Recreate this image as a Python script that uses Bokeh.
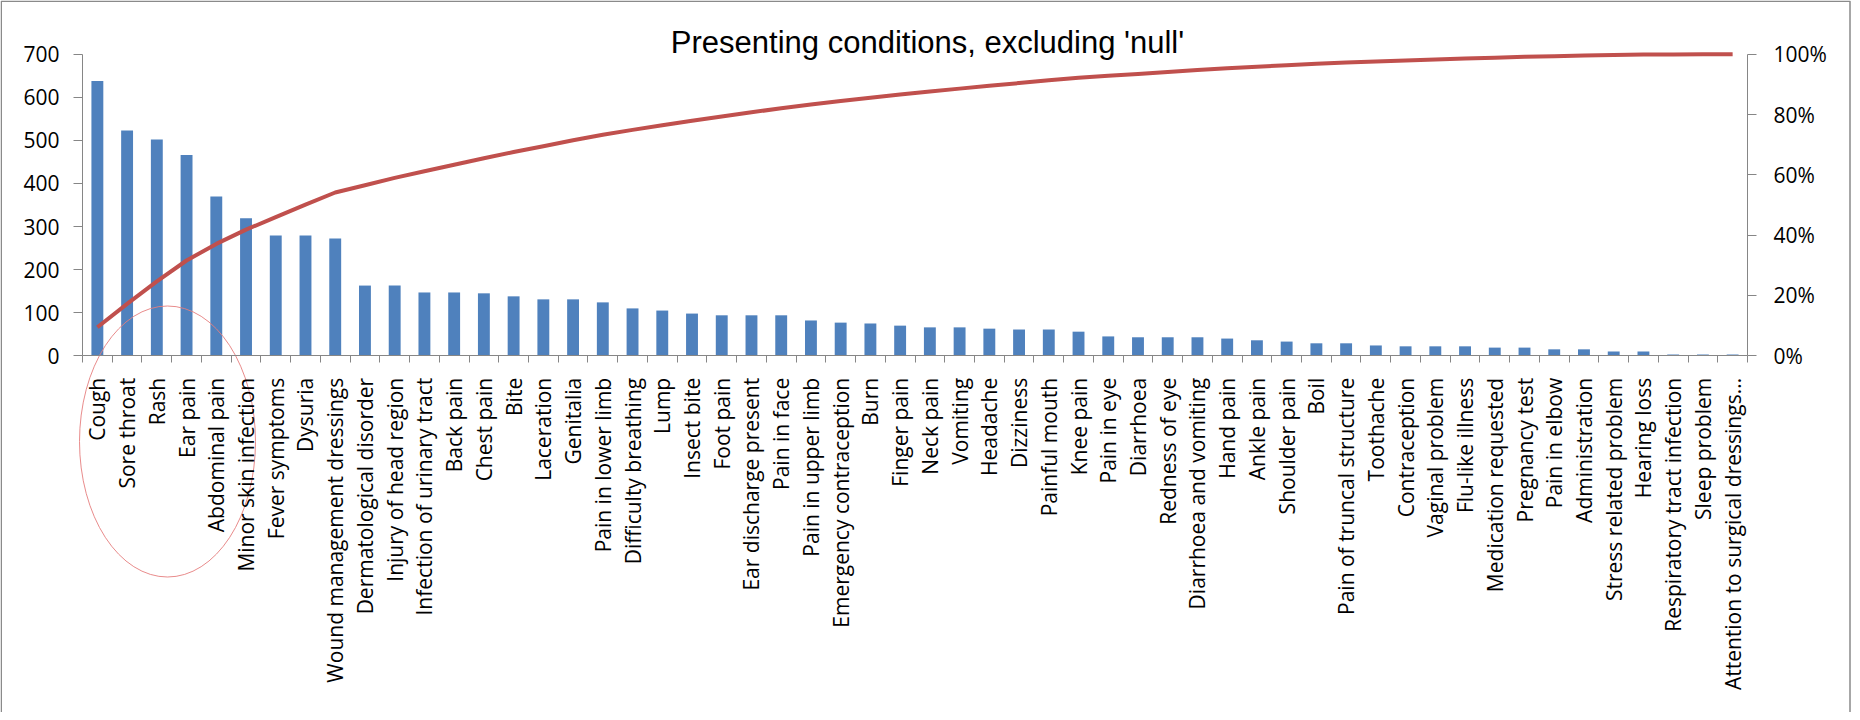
import math
from itertools import accumulate

from bokeh.plotting import figure
from bokeh.models import (Range1d, LinearAxis, FixedTicker, NumeralTickFormatter, Label)
from bokeh.embed import file_html
from bokeh.resources import INLINE

# ---------------- data ----------------
categories = [
    "Cough", "Sore throat", "Rash", "Ear pain", "Abdominal pain",
    "Minor skin infection", "Fever symptoms", "Dysuria",
    "Wound management dressings", "Dermatological disorder",
    "Injury of head region", "Infection of urinary tract", "Back pain",
    "Chest pain", "Bite", "Laceration", "Genitalia", "Pain in lower limb",
    "Difficulty breathing", "Lump", "Insect bite", "Foot pain",
    "Ear discharge present", "Pain in face", "Pain in upper limb",
    "Emergency contraception", "Burn", "Finger pain", "Neck pain",
    "Vomiting", "Headache", "Dizziness", "Painful mouth", "Knee pain",
    "Pain in eye", "Diarrhoea", "Redness of eye", "Diarrhoea and vomiting",
    "Hand pain", "Ankle pain", "Shoulder pain", "Boil",
    "Pain of truncal structure", "Toothache", "Contraception",
    "Vaginal problem", "Flu-like illness", "Medication requested",
    "Pregnancy test", "Pain in elbow", "Administration",
    "Stress related problem", "Hearing loss", "Respiratory tract infection",
    "Sleep problem", "Attention to surgical dressings...",
]
counts = [
    638, 523, 502, 466, 370, 319, 279, 279, 272, 163,
    163, 147, 147, 145, 138, 131, 131, 124, 110, 105,
    98, 94, 94, 94, 82, 77, 75, 70, 66, 66,
    63, 61, 61, 56, 45, 43, 43, 43, 40, 36,
    33, 29, 29, 24, 22, 22, 22, 19, 19, 15,
    15, 10, 10, 3, 3, 3,
]
count_ticks = [0, 100, 200, 300, 400, 500, 600, 700]
pct_ticks = [0.0, 0.2, 0.4, 0.6, 0.8, 1.0]
title_text = "Presenting conditions, excluding 'null'"

# cumulative share for the Pareto line
total = sum(counts)
cum_pct = [c / total for c in accumulate(counts)]

n = len(categories)
centers = [i + 0.5 for i in range(n)]
bounds = [float(i) for i in range(n + 1)]
COUNT_MAX = 700

# ---------------- layout (pixels on the canvas) ----------------
W, H = 1852, 712
AX_LEFT_PX = 82.0          # canvas x of the value axis
AX_RIGHT_PX = 1747.0       # canvas x of the percentage axis
ZERO_PX = 355.3            # canvas y of the zero line
TOP_PX = 53.7              # canvas y of the 700 tick
CAT_PX = (AX_RIGHT_PX - AX_LEFT_PX) / n
UNIT_PX = (ZERO_PX - TOP_PX) / COUNT_MAX

def px_x(cx):
    return (cx - AX_LEFT_PX) / CAT_PX

def px_y(cy):
    return (ZERO_PX - cy) / UNIT_PX

x0, x1 = px_x(0), px_x(W)
y0, y1 = px_y(H), px_y(0)

# ---------------- styles ----------------
BAR = "#4F81BD"
LINE = "#C0504D"
AXIS = "#868686"
LABEL_FONT = "Open Sans"

p = figure(width=W, height=H, output_backend="svg", toolbar_location=None,
           x_range=Range1d(x0, x1), y_range=Range1d(y0, y1),
           min_border=0, min_border_left=0, min_border_right=0,
           min_border_top=0, min_border_bottom=0)
p.extra_y_ranges = {"pct": Range1d(y0 / COUNT_MAX, y1 / COUNT_MAX)}
p.outline_line_color = None
p.grid.visible = False
p.background_fill_color = "white"
p.border_fill_color = "white"

# chart-area border (top, left, right edges; bottom lies outside the window)
p.quad(left=[px_x(0.75)], right=[px_x(1849.5)], top=[px_y(0.75)], bottom=[px_y(H + 40)],
       fill_color=None, line_color="#8a8a8a", line_width=1.5)

# bars and cumulative line
p.vbar(x=centers, top=counts, width=0.4, fill_color=BAR, line_color=None)
p.line(x=centers, y=cum_pct, y_range_name="pct", line_color=LINE, line_width=4)

# left axis
ya = p.yaxis[0]
ya.fixed_location = 0
ya.bounds = (0, COUNT_MAX)
ya.ticker = FixedTicker(ticks=count_ticks)
ya.axis_line_color = AXIS
ya.major_tick_line_color = AXIS
ya.major_tick_out = 9
ya.major_tick_in = 0
ya.minor_tick_out = 0
ya.minor_tick_in = 0
ya.major_label_text_font = LABEL_FONT
ya.major_label_text_font_size = "21px"
ya.major_label_text_color = "black"
ya.major_label_standoff = 14

# bottom axis
xa = p.xaxis[0]
xa.fixed_location = 0
xa.bounds = (0, n)
xa.ticker = FixedTicker(ticks=centers, minor_ticks=bounds)
xa.major_label_overrides = {c: lab for c, lab in zip(centers, categories)}
xa.axis_line_color = AXIS
xa.major_tick_out = 0
xa.major_tick_in = 0
xa.minor_tick_out = 7
xa.minor_tick_in = 0
xa.minor_tick_line_color = AXIS
xa.major_label_orientation = math.pi / 2
xa.major_label_text_font = LABEL_FONT
xa.major_label_text_font_size = "21px"
xa.major_label_text_color = "black"
xa.major_label_standoff = 15

# right axis
ra = LinearAxis(y_range_name="pct", ticker=FixedTicker(ticks=pct_ticks),
                formatter=NumeralTickFormatter(format="0%"))
ra.fixed_location = n
ra.bounds = (0, 1)
ra.axis_line_color = AXIS
ra.major_tick_line_color = AXIS
ra.major_tick_out = 9
ra.major_tick_in = 0
ra.minor_tick_out = 0
ra.minor_tick_in = 0
ra.major_label_text_font = LABEL_FONT
ra.major_label_text_font_size = "21px"
ra.major_label_text_color = "black"
ra.major_label_standoff = 17
p.add_layout(ra, "right")

# title
p.add_layout(Label(x=px_x(927), y=px_y(42), text=title_text, text_align="center",
                   text_baseline="alphabetic", text_font="Liberation Sans",
                   text_font_size="31px", text_color="black"))

# hand-drawn ellipse annotation around the first labels
p.ellipse(x=[px_x(167)], y=[px_y(441)], width=176, height=271,
          width_units="screen", height_units="screen",
          fill_color=None, line_color="#e57e7e", line_width=1, line_alpha=0.9)

open("out.html", "w").write(file_html(p, INLINE))
